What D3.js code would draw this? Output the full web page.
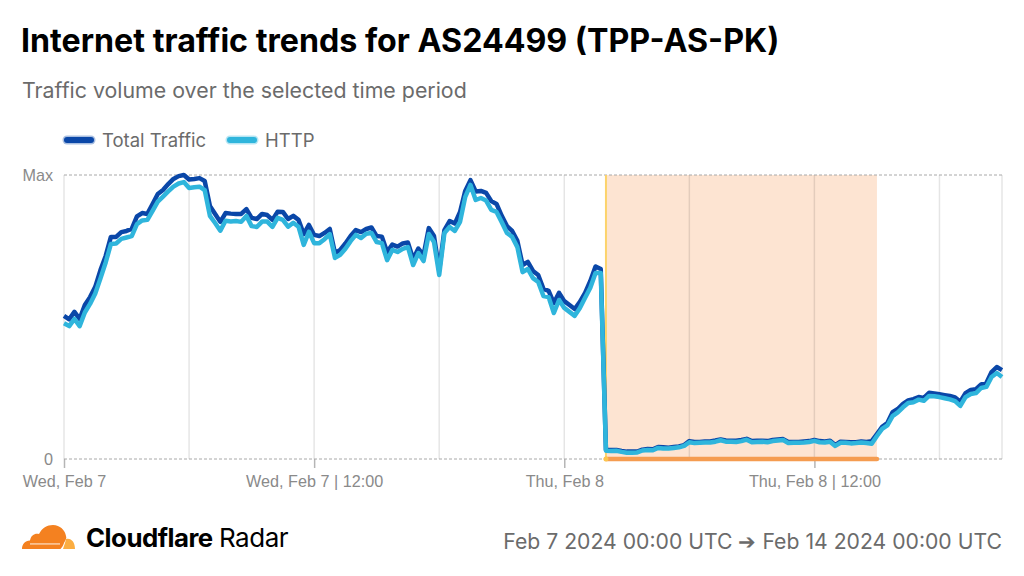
<html>

<head>
	<meta charset="utf-8">
	<script src="https://d3js.org/d3.v7.min.js"></script>
	<style>
		html, body { margin: 0; padding: 0; background: #fff; overflow: hidden; }
	</style>
</head>

<body>
	<div id="chart"></div>
</body>

<script>
// readings are 15 minutes apart, Max = 100
var startTime = Date.UTC(2024, 1, 7, 0, 0)
var stepMs = 15 * 60 * 1000

var totalTraffic = [
	50.4, 49.2, 51.8, 49.3, 54.2, 57.0, 60.6, 66.5, 71.5, 78.2,
	78.2, 79.9, 80.3, 81.0, 85.4, 86.6, 86.3, 89.8, 93.3, 94.7,
	96.8, 98.6, 99.6, 100, 98.4, 98.6, 98.9, 97.9, 89.1, 86.3,
	83.5, 86.6, 86.4, 86.3, 86.3, 88.0, 84.9, 84.5, 86.3, 85.9,
	84.2, 87.1, 87.0, 84.5, 85.6, 84.2, 79.2, 82.4, 78.9, 78.5,
	79.6, 81.0, 72.5, 73.6, 75.9, 78.5, 80.6, 79.9, 81.0, 81.5,
	78.5, 78.3, 72.9, 75.5, 74.8, 75.9, 76.2, 70.4, 74.1, 71.8,
	81.3, 78.5, 66.5, 80.6, 83.8, 82.9, 87.0, 94.4, 98.2, 94.2,
	94.4, 93.7, 90.8, 89.8, 85.6, 82.0, 80.3, 76.8, 68.3, 69.4,
	66.2, 64.8, 59.9, 59.2, 54.9, 58.5, 55.6, 54.2, 52.8, 55.3,
	58.5, 62.7, 67.8, 66.9, 3.2, 3.2, 3.2, 2.8, 2.6, 2.6,
	2.6, 3.3, 3.5, 3.4, 4.2, 4.1, 4.0, 4.2, 4.4, 4.9,
	6.3, 6.0, 6.0, 6.2, 6.2, 6.5, 6.9, 6.5, 6.4, 6.4,
	6.7, 7.1, 6.3, 6.4, 6.4, 6.3, 6.7, 6.9, 7.0, 6.0,
	6.0, 6.0, 6.2, 6.3, 6.7, 6.3, 6.2, 6.4, 4.9, 6.1,
	6.0, 5.9, 5.9, 6.2, 6.0, 6.3, 8.8, 11.3, 12.7, 16.5,
	17.6, 19.4, 20.6, 21.1, 21.8, 21.5, 23.3, 23.1, 22.8, 22.5,
	22.2, 21.7, 20.2, 23.2, 24.3, 24.6, 26.3, 26.8, 30.6, 32.4,
	31.3
]

var httpTraffic = [
	47.8, 46.8, 49.3, 46.8, 51.6, 54.6, 58.3, 63.6, 69.2, 75.7,
	75.9, 77.5, 78.0, 78.5, 82.7, 84.0, 84.2, 87.4, 90.6, 92.4,
	94.2, 95.9, 97.0, 97.5, 95.4, 95.7, 95.9, 94.7, 85.6, 83.1,
	80.4, 83.9, 83.6, 83.8, 83.5, 85.6, 82.0, 81.7, 83.6, 83.6,
	81.7, 84.9, 84.2, 81.8, 83.2, 81.8, 75.4, 80.0, 76.0, 76.0,
	77.4, 79.2, 70.8, 71.9, 74.0, 76.7, 78.9, 77.8, 79.3, 79.6,
	76.4, 76.0, 70.0, 73.6, 72.9, 74.0, 74.6, 68.3, 72.5, 69.7,
	79.2, 76.4, 64.8, 79.6, 81.7, 80.3, 83.5, 92.3, 96.5, 91.2,
	91.9, 91.0, 87.7, 87.0, 83.4, 79.6, 78.2, 74.6, 65.8, 66.9,
	63.7, 62.3, 57.4, 57.0, 51.4, 56.0, 53.2, 51.8, 50.4, 53.2,
	56.8, 60.3, 65.5, 65.5, 2.9, 2.8, 2.9, 2.5, 2.2, 2.2,
	2.3, 3.0, 3.2, 3.1, 3.9, 3.7, 3.7, 3.9, 4.1, 4.6,
	5.9, 5.6, 5.7, 5.8, 5.8, 6.1, 6.6, 6.1, 6.1, 6.0,
	6.3, 6.8, 5.9, 6.0, 6.1, 5.9, 6.3, 6.5, 6.7, 5.6,
	5.7, 5.7, 5.8, 6.0, 6.4, 5.9, 5.8, 6.1, 4.6, 5.7,
	5.7, 5.5, 5.6, 5.8, 5.6, 5.4, 8.1, 10.6, 11.8, 15.1,
	16.4, 18.2, 19.7, 20.0, 20.9, 20.5, 22.2, 22.1, 21.8, 21.4,
	21.0, 20.4, 18.7, 21.8, 22.9, 23.2, 25.0, 25.4, 28.9, 30.3,
	28.9
]

var seriesNames = ["Total Traffic", "HTTP"]
var seriesColors = ["#0a47a8", "#2fb5dc"]
var outageStart = Date.UTC(2024, 1, 8, 2, 0)
var outageEnd = Date.UTC(2024, 1, 8, 15, 0)
var axisTimes = [
	Date.UTC(2024, 1, 7, 0), Date.UTC(2024, 1, 7, 12),
	Date.UTC(2024, 1, 8, 0), Date.UTC(2024, 1, 8, 12)
]
var axisLabels = ["Wed, Feb 7", "Wed, Feb 7 | 12:00", "Thu, Feb 8", "Thu, Feb 8 | 12:00"]
var minorTimes = [
	Date.UTC(2024, 1, 7, 6), Date.UTC(2024, 1, 7, 12), Date.UTC(2024, 1, 7, 18),
	Date.UTC(2024, 1, 8, 0), Date.UTC(2024, 1, 8, 6), Date.UTC(2024, 1, 8, 12), Date.UTC(2024, 1, 8, 18),
	Date.UTC(2024, 1, 8, 21)
]

var uiFont = "Inter, sans-serif"
var axisFont = "'Liberation Sans', Arial, sans-serif"

var svg = d3.select("#chart")
	.append("svg")
	.attr("width", 1024)
	.attr("height", 576)
	.style("display", "block")

var x = d3.scaleUtc()
	.domain([startTime, Date.UTC(2024, 1, 8, 21)])
	.range([64, 1002])

var y = d3.scaleLinear()
	.domain([0, 100])
	.range([459, 175])

function timeOf(i){
	return startTime + i * stepMs
}

// headings
svg.append("text")
	.attr("x", 21)
	.attr("y", 52)
	.style("font", "700 32.2px " + uiFont)
	.style("fill", "#000")
	.text("Internet traffic trends for AS24499 (TPP-AS-PK)")

svg.append("text")
	.attr("x", 22)
	.attr("y", 98)
	.style("font", "400 21.35px " + uiFont)
	.style("fill", "#6b6b6b")
	.text("Traffic volume over the selected time period")

// legend
var legendX = [67, 230]
var legend = svg.selectAll(".legend")
	.data(seriesNames)
	.enter()
	.append("g")
	.attr("class", "legend")
	.attr("transform", function(d, i){ return "translate(" + legendX[i] + ",140)" })

legend.append("line")
	.attr("x1", 0)
	.attr("x2", 24)
	.style("stroke", function(d, i){ return seriesColors[i] })
	.style("stroke-opacity", 0.35)
	.style("stroke-width", 9)
	.style("stroke-linecap", "round")

legend.append("line")
	.attr("x1", 0)
	.attr("x2", 24)
	.style("stroke", function(d, i){ return seriesColors[i] })
	.style("stroke-width", 6)
	.style("stroke-linecap", "round")

legend.append("text")
	.attr("x", 35)
	.attr("y", 6.5)
	.style("font", "400 18.5px " + uiFont)
	.style("fill", "#6b6b6b")
	.text(function(d){ return d })

// outage band goes under the grid
svg.append("rect")
	.attr("x", x(outageStart))
	.attr("y", y(100))
	.attr("width", x(outageEnd) - x(outageStart))
	.attr("height", y(0) - y(100))
	.style("fill", "#fde4d2")

// vertical grid
svg.append("g")
	.selectAll("line")
	.data(minorTimes)
	.enter()
	.append("line")
	.attr("x1", function(d){ return x(d) })
	.attr("x2", function(d){ return x(d) })
	.attr("y1", y(100))
	.attr("y2", y(0))
	.style("stroke", "#000")
	.style("stroke-opacity", 0.1)
	.style("stroke-width", 1.5)

// axes
var xAxis = d3.axisBottom(x)
	.tickValues(axisTimes)
	.tickSize(9)
	.tickPadding(7)
	.tickFormat(function(d, i){ return axisLabels[i] })

var xAxisG = svg.append("g")
	.attr("transform", "translate(0," + y(0) + ")")
	.call(xAxis)

xAxisG.select(".domain").remove()
xAxisG.selectAll("line").style("stroke", "#b5b5b5").style("stroke-width", 1.5)
xAxisG.selectAll("text")
	.style("font", "16.2px " + axisFont)
	.style("fill", "#8a8a8a")

var yAxis = d3.axisLeft(y)
	.tickValues([0, 100])
	.tickSize(0)
	.tickPadding(11)
	.tickFormat(function(d){ return d == 100 ? "Max" : "0" })

var yAxisG = svg.append("g")
	.attr("transform", "translate(64,0)")
	.call(yAxis)

yAxisG.select(".domain").remove()
yAxisG.selectAll("text")
	.style("font", "16.2px " + axisFont)
	.style("fill", "#8a8a8a")

svg.append("line")
	.attr("x1", x(startTime))
	.attr("x2", x(startTime))
	.attr("y1", y(100))
	.attr("y2", y(0))
	.style("stroke", "#000")
	.style("stroke-opacity", 0.1)
	.style("stroke-width", 1.5)

svg.selectAll(".hline")
	.data([0, 100])
	.enter()
	.append("line")
	.attr("class", "hline")
	.attr("x1", 64)
	.attr("x2", 1002)
	.attr("y1", function(d){ return y(d) })
	.attr("y2", function(d){ return y(d) })
	.style("stroke", "#a8a8a8")
	.style("stroke-width", 1)
	.style("stroke-dasharray", "3,2")

// outage markers
svg.append("line")
	.attr("x1", x(outageStart))
	.attr("x2", x(outageStart))
	.attr("y1", y(100))
	.attr("y2", y(0))
	.style("stroke", "#fcd36b")
	.style("stroke-width", 2)

svg.append("line")
	.attr("x1", x(outageStart))
	.attr("x2", x(outageEnd))
	.attr("y1", y(0))
	.attr("y2", y(0))
	.style("stroke", "#f59c50")
	.style("stroke-width", 4.5)
	.style("stroke-linecap", "round")

svg.append("circle")
	.attr("cx", x(outageStart))
	.attr("cy", y(0))
	.attr("r", 2.5)
	.style("fill", "#fcc54f")

// series
var line = d3.line()
	.x(function(d, i){ return x(timeOf(i)) })
	.y(function(d){ return y(d) })

svg.selectAll(".series")
	.data([totalTraffic, httpTraffic])
	.enter()
	.append("path")
	.attr("class", "series")
	.attr("d", line)
	.style("fill", "none")
	.style("stroke", function(d, i){ return seriesColors[i] })
	.style("stroke-width", 4.5)
	.style("stroke-linejoin", "round")

// footer logo
var logo = svg.append("g").attr("transform", "translate(22,525)")

logo.append("path")
	.attr("d", "M0,24 C0,19 3,16 8,15.5 C9,10 13,8 17,9 C20,3 25,0 31,0 C38,0 43,5 44,11 C45,13 43.5,15 42,18 C41,21 40,22.5 38.5,24 Z")
	.style("fill", "#f48120")

logo.append("path")
	.attr("d", "M41,24 C42,21 43.5,17 44,14 C49,12.5 53,17 53,24 Z")
	.style("fill", "#fbad41")

logo.append("path")
	.attr("d", "M8,18.5 L38,18.5 L38,19.4 L8,19.4 Z")
	.style("fill", "#fff")

svg.append("text")
	.attr("x", 86)
	.attr("y", 547)
	.style("font", "700 25.8px " + uiFont)
	.style("letter-spacing", "-0.5px")
	.style("fill", "#000")
	.text("Cloudflare")

svg.append("text")
	.attr("x", 219)
	.attr("y", 547)
	.style("font", "400 26px " + uiFont)
	.style("letter-spacing", "-0.5px")
	.style("fill", "#000")
	.text("Radar")

svg.append("text")
	.attr("x", 1002)
	.attr("y", 549)
	.attr("text-anchor", "end")
	.style("font", "400 21.2px " + uiFont)
	.style("fill", "#6b6b6b")
	.text("Feb 7 2024 00:00 UTC ➔ Feb 14 2024 00:00 UTC")
</script>

</html>
